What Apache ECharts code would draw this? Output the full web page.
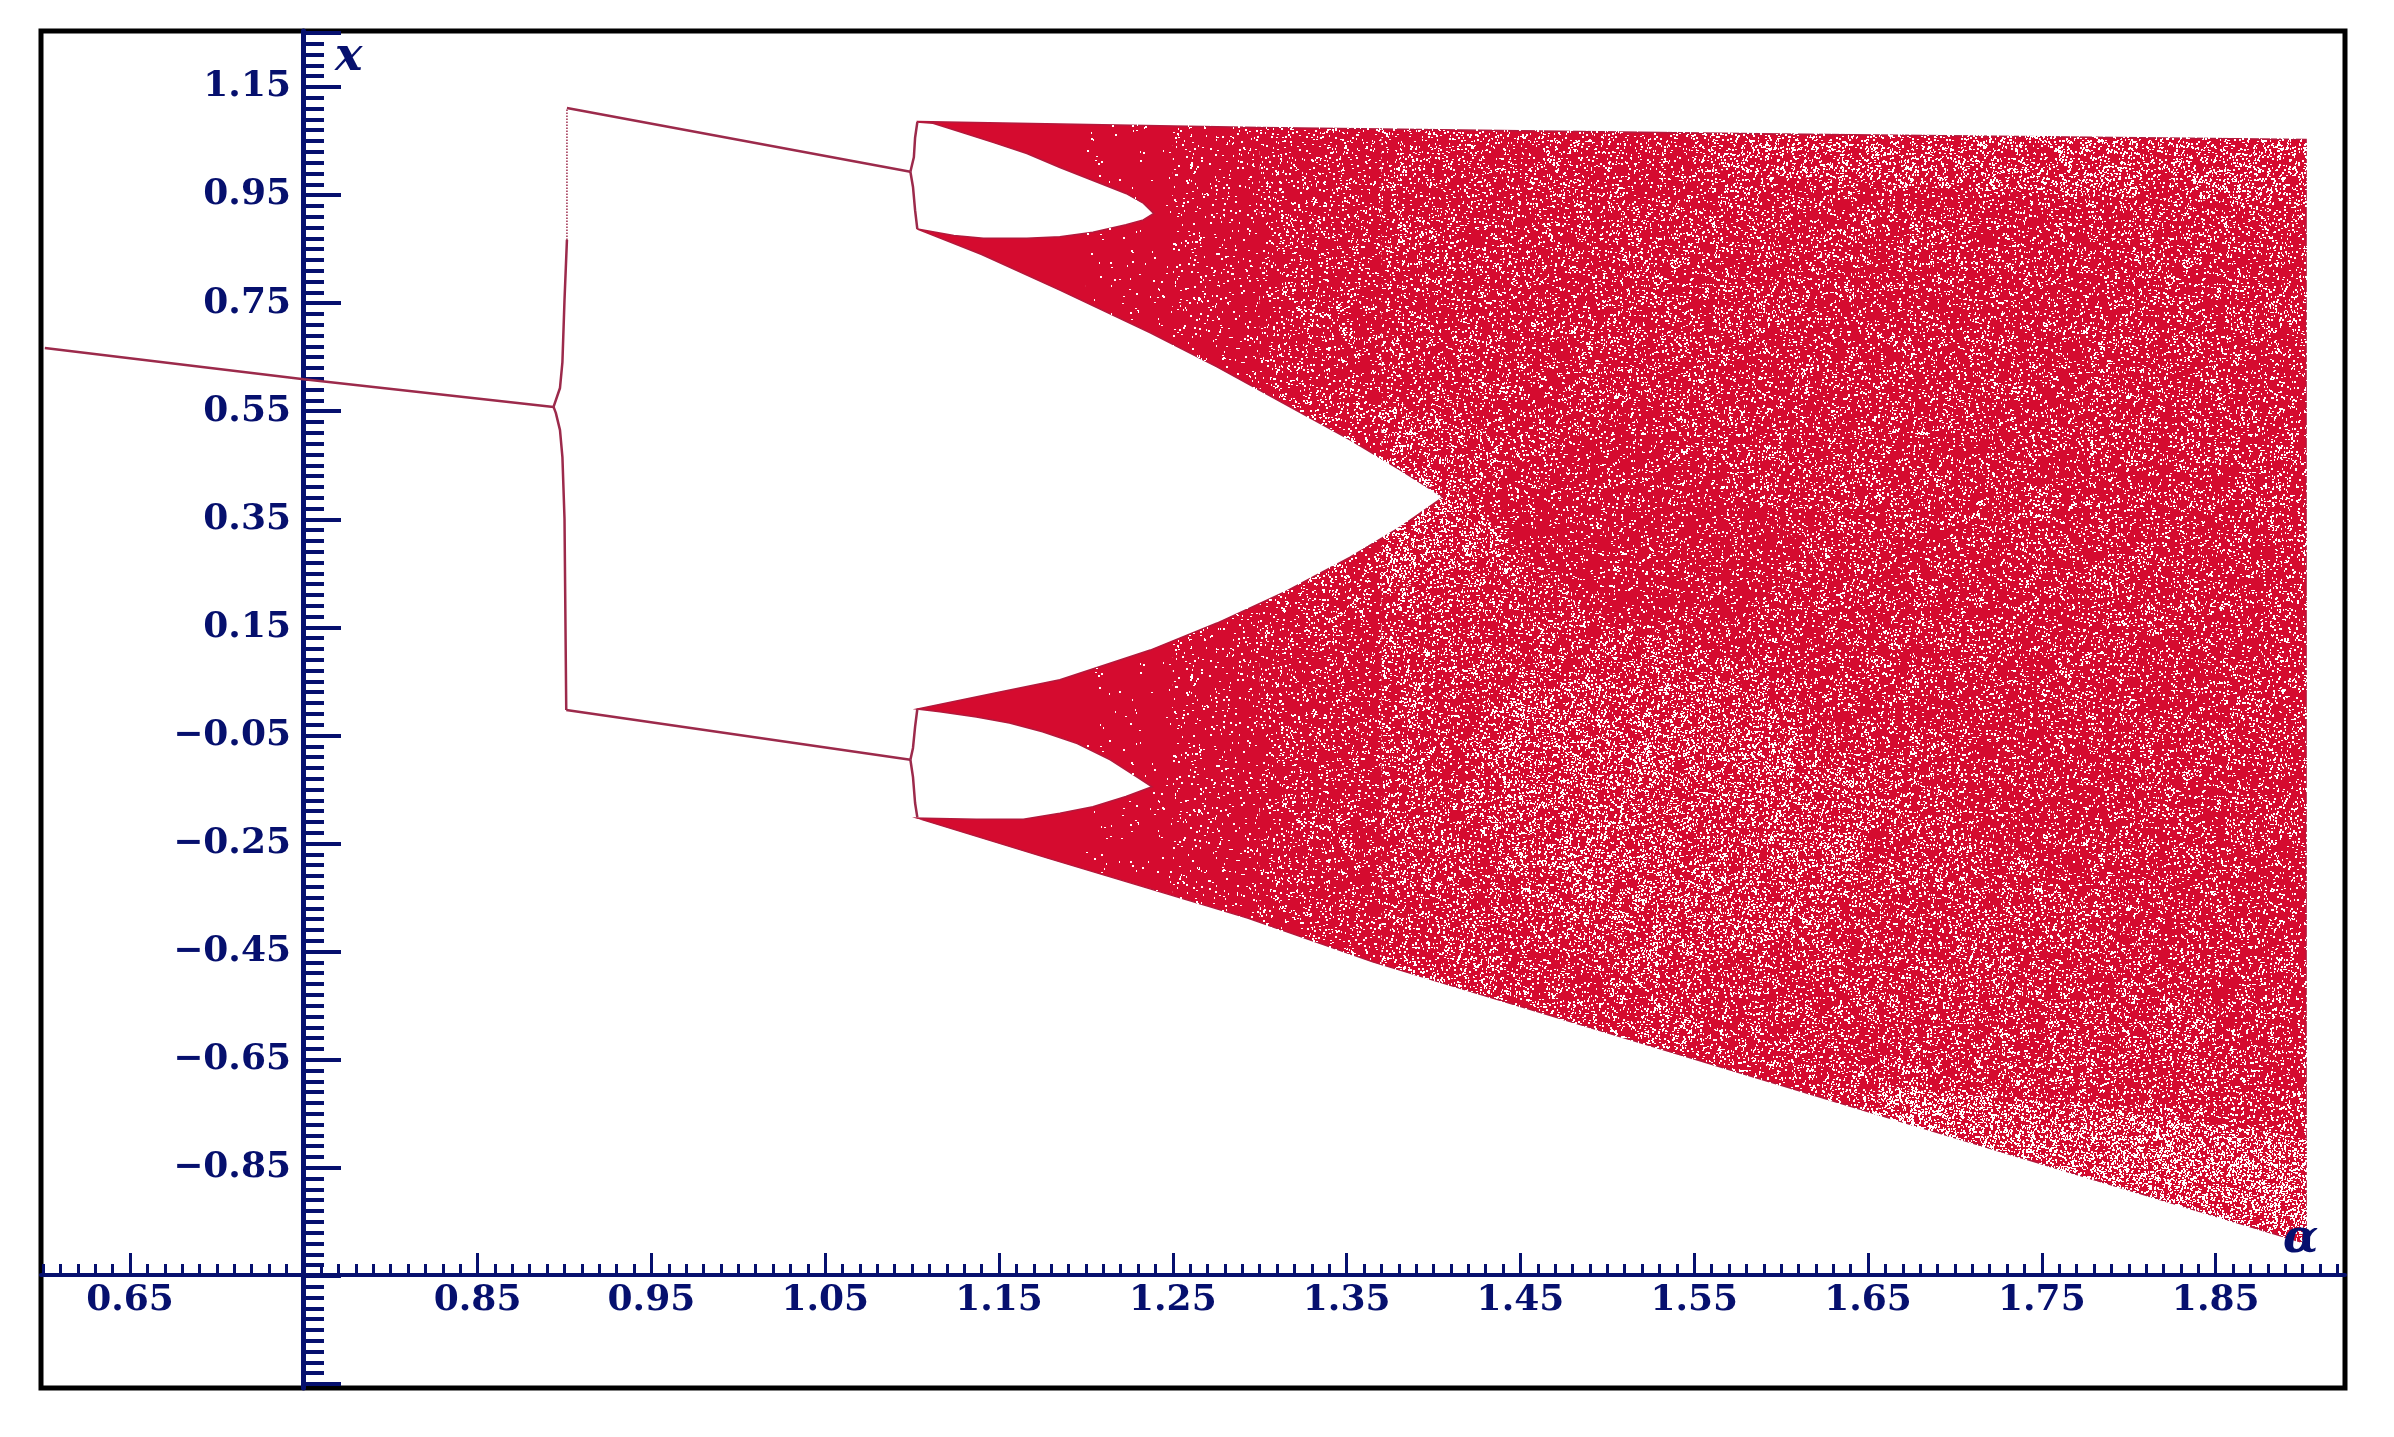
<!DOCTYPE html>
<html>
<head>
<meta charset="utf-8">
<style>html,body{margin:0;padding:0;background:#fff}#c{width:2394px;height:1437px}</style>
<script src="https://cdn.jsdelivr.net/npm/echarts@6/dist/echarts.min.js"></script>
</head>
<body>
<div id="c"></div>
<script>
// ---- tick labels -------------------------------------------------------
const xLabelValues = [0.65, 0.85, 0.95, 1.05, 1.15, 1.25, 1.35, 1.45, 1.55, 1.65, 1.75, 1.85];
const xMajorTicks  = [0.65, 0.75, 0.85, 0.95, 1.05, 1.15, 1.25, 1.35, 1.45, 1.55, 1.65, 1.75, 1.85];
const yLabelValues = [1.15, 0.95, 0.75, 0.55, 0.35, 0.15, -0.05, -0.25, -0.45, -0.65, -0.85];
const yMajorTicks  = [1.25, 1.15, 0.95, 0.75, 0.55, 0.35, 0.15, -0.05, -0.25, -0.45, -0.65, -0.85, -1.05, -1.25];
const xMinorTicks = []; for (let i = 60; i <= 192; i++) xMinorTicks.push(i / 100);
const yMinorTicks = []; for (let i = -125; i <= 125; i += 2) yMinorTicks.push(i / 100);

// ---- periodic branches: [alpha, x] ------------------------------------
const period1 = [[0.601,0.667],[0.75,0.609],[0.8937,0.558]];
const split1Up = [[0.8937,0.558],[0.8974,0.593],[0.8988,0.641],[0.9,0.756],[0.9014,0.867]];
const split1UpDotted = [[0.9014,0.867],[0.9014,1.111]];
const split1Down = [[0.8937,0.558],[0.895,0.547],[0.8974,0.515],[0.8988,0.465],[0.9,0.351],[0.901,-0.003]];
const branchUpper = [[0.9014,1.111],[1.099,0.993]];
const branchLower = [[0.901,-0.003],[1.099,-0.095]];
const split2UpperA = [[1.099,0.993],[1.101,1.02],[1.1017,1.056],[1.103,1.085]];
const split2UpperB = [[1.099,0.993],[1.1005,0.965],[1.1017,0.922],[1.103,0.887]];
const split2LowerA = [[1.099,-0.095],[1.1005,-0.073],[1.1017,-0.034],[1.103,-0.001]];
const split2LowerB = [[1.099,-0.095],[1.1005,-0.127],[1.1017,-0.175],[1.103,-0.2015]];

// ---- outline of the chaotic band --------------------------------------
const topEdge = [[1.103,1.086],[1.30,1.075],[1.60,1.063],[1.902,1.053]];
const rightEdge = [[1.902,-0.99]];
const bottomEdgeRight = [[1.656,-0.752]];
const bottomEdge = [[1.365,-0.469],[1.293,-0.388],[1.235,-0.332],[1.178,-0.277],[1.103,-0.203]];
const lowerHoleBottom = [[1.137,-0.205],[1.164,-0.205],[1.185,-0.194],[1.204,-0.182],[1.223,-0.163],[1.238,-0.145]];
const lowerHoleTop = [[1.229,-0.126],[1.214,-0.095],[1.195,-0.065],[1.175,-0.043],[1.156,-0.027],[1.137,-0.016],[1.116,-0.006],[1.103,-0.001]];
const wedgeLower = [[1.147,0.028],[1.185,0.053],[1.237,0.108],[1.2754,0.158],[1.3134,0.214],[1.352,0.280],[1.381,0.336],[1.4055,0.391]];
const wedgeUpper = [[1.381,0.441],[1.352,0.497],[1.3134,0.565],[1.2754,0.632],[1.237,0.695],[1.185,0.774],[1.14,0.84],[1.103,0.887]];
const upperHoleBottom = [[1.124,0.875],[1.141,0.870],[1.166,0.870],[1.185,0.873],[1.204,0.881],[1.223,0.895],[1.233,0.904],[1.239,0.916]];
const upperHoleTop = [[1.233,0.935],[1.223,0.953],[1.204,0.977],[1.185,1.001],[1.166,1.027],[1.147,1.047],[1.1275,1.067],[1.112,1.083],[1.103,1.085]];

// ---- zones of thinner dots --------------------------------------------
const zoneFaint   = [[1.2,1.12],[1.25,1.12],[1.25,-0.45],[1.2,-0.45]];
const zoneLeftA   = [[1.25,1.12],[1.30,1.12],[1.30,-0.45],[1.25,-0.45]];
const zoneLeftB   = [[1.30,1.12],[1.37,1.12],[1.37,-0.55],[1.30,-0.55]];
const zoneUpper   = [[1.37,1.12],[1.91,1.12],[1.91,-0.725],[1.813,-0.454],[1.701,-0.182],[1.557,0.13],[1.62,0.28],[1.522,0.564],[1.414,0.401],[1.37,0.43]];
const zoneCentre  = [[1.414,0.401],[1.522,0.564],[1.62,0.28],[1.557,0.13],[1.486,0.184]];
const zoneLower   = [[1.37,0.43],[1.414,0.401],[1.486,0.184],[1.557,0.13],[1.701,-0.182],[1.813,-0.454],[1.91,-0.725],[1.91,-1.02],[1.37,-0.6]];
const zoneTopStrip = [[1.55,1.1],[1.91,1.1],[1.91,0.93],[1.7,0.96],[1.55,1.0]];
const zoneTip     = [[1.33,0.62],[1.44,0.5],[1.44,0.3],[1.33,0.15]];
const zoneLobe    = [[1.441,0.048],[1.575,0.05],[1.656,-0.18],[1.63,-0.39],[1.52,-0.52],[1.43,-0.25]];
const zoneCorner  = [[1.656,-0.70],[1.79,-0.74],[1.91,-0.80],[1.91,-1.02],[1.656,-0.80]];

const cloudOutline = [].concat(topEdge, rightEdge, bottomEdgeRight, bottomEdge, lowerHoleBottom, lowerHoleTop, wedgeLower, wedgeUpper, upperHoleBottom, upperHoleTop);

// ---- style only: a fixed texture of small white dots used as a fill ---
function dotTile(coverage, seed) {
  const size = 512, cv = document.createElement('canvas');
  cv.width = cv.height = size;
  const g = cv.getContext('2d');
  g.fillStyle = '#fff';
  let s = seed;
  const next = (m) => { s = (Math.imul(s, 1103515245) + 12345) & 0x7fffffff; return (s >>> 8) % m; };
  const n = Math.round(coverage * size * size / 3);
  for (let i = 0; i < n; i++) {
    const x = next(size), y = next(size), k = next(3);
    if (k === 0) g.fillRect(x, y, 2, 2);
    else if (k === 1) g.fillRect(x, y, 2, 1);
    else g.fillRect(x, y, 1, 2);
  }
  return { image: cv, repeat: 'repeat' };
}

const cloudRed = '#d50b2f';
const zones = [
  { points: cloudOutline, fill: cloudRed, stroke: '#b3193c' },
  { points: zoneFaint,   fill: dotTile(0.012, 11) },
  { points: zoneLeftA,   fill: dotTile(0.06, 23) },
  { points: zoneLeftB,   fill: dotTile(0.14, 37) },
  { points: zoneUpper,   fill: dotTile(0.17, 41) },
  { points: zoneCentre,  fill: dotTile(0.12, 53) },
  { points: zoneLower,   fill: dotTile(0.22, 67) },
  { points: zoneTopStrip,fill: dotTile(0.20, 79) },
  { points: zoneTip,     fill: dotTile(0.10, 83) },
  { points: zoneLobe,    fill: dotTile(0.08, 97) },
  { points: zoneCorner,  fill: dotTile(0.24, 101) }
];

const navy = '#06106e';
const labelFont = { color: navy, fontFamily: 'DejaVu Serif', fontWeight: 'bold', fontSize: 36 };
const branchColor = '#9c2a4b';
const lineSeries = (data, type) => ({
  type: 'line', data, showSymbol: false, animation: false, z: 4, clip: false,
  lineStyle: { color: branchColor, width: type ? 1.5 : 2.5, type: type || 'solid' }
});
const fmt = v => v.toFixed(2).replace('-', '\u2212');
const xRange = { min: 0.5988, max: 1.9244 }, yRange = { min: -1.2575, max: 1.2536 };

const chart = echarts.init(document.getElementById('c'), null, { renderer: 'canvas' });
chart.setOption({
  animation: false,
  backgroundColor: '#fff',
  grid: { show: true, left: 41, right: 49, top: 31, bottom: 49, borderColor: '#000', borderWidth: 5, backgroundColor: 'transparent' },
  xAxis: [
    { type: 'value', position: 'bottom', offset: -113, ...xRange, splitLine: { show: false },
      axisLine: { onZero: false, lineStyle: { color: navy, width: 4 } },
      axisTick: { inside: true, length: 11, customValues: xMinorTicks, lineStyle: { color: navy, width: 3 } },
      axisLabel: { show: false } },
    { type: 'value', position: 'bottom', offset: -113, z: 8, ...xRange, splitLine: { show: false },
      name: '\u03b1', nameLocation: 'end', nameGap: -62,
      nameTextStyle: { color: navy, fontFamily: 'DejaVu Serif', fontWeight: 'bold', fontStyle: 'italic', fontSize: 46, align: 'left', verticalAlign: 'bottom', padding: [0, 0, 12, 0] },
      axisLine: { show: false, onZero: false },
      axisTick: { inside: true, length: 22, customValues: xMajorTicks, lineStyle: { color: navy, width: 3 } },
      axisLabel: { ...labelFont, margin: 8, customValues: xLabelValues, formatter: fmt, hideOverlap: false, showMinLabel: true, showMaxLabel: true } }
  ],
  yAxis: [
    { type: 'value', position: 'left', offset: -262, ...yRange, splitLine: { show: false },
      axisLine: { onZero: false, lineStyle: { color: navy, width: 5 } },
      axisTick: { inside: true, length: 21, customValues: yMinorTicks, lineStyle: { color: navy, width: 4 } },
      axisLabel: { show: false } },
    { type: 'value', position: 'left', offset: -262, ...yRange, splitLine: { show: false },
      name: 'x', nameLocation: 'end', nameGap: -50,
      nameTextStyle: { color: navy, fontFamily: 'DejaVu Serif', fontWeight: 'bold', fontStyle: 'italic', fontSize: 46, align: 'left', padding: [0, 0, 0, 32] },
      axisLine: { show: false, onZero: false },
      axisTick: { inside: true, length: 38, customValues: yMajorTicks, lineStyle: { color: navy, width: 4 } },
      axisLabel: { ...labelFont, margin: 12, customValues: yLabelValues, formatter: fmt, hideOverlap: false } }
  ],
  series: [
    { type: 'custom', coordinateSystem: 'cartesian2d', xAxisIndex: 0, yAxisIndex: 0, clip: false, z: 2, silent: true,
      data: zones.map((z, i) => [i]),
      renderItem: (params, api) => {
        const z = zones[params.dataIndex];
        return { type: 'polygon', shape: { points: z.points.map(p => api.coord(p)) },
                 style: { fill: z.fill, stroke: z.stroke || null, lineWidth: z.stroke ? 1.5 : 0 } };
      } },
    lineSeries(period1), lineSeries(split1Up), lineSeries(split1UpDotted, 'dotted'), lineSeries(split1Down),
    lineSeries(branchUpper), lineSeries(branchLower),
    lineSeries(split2UpperA), lineSeries(split2UpperB), lineSeries(split2LowerA), lineSeries(split2LowerB)
  ]
});
</script>
</body>
</html>
